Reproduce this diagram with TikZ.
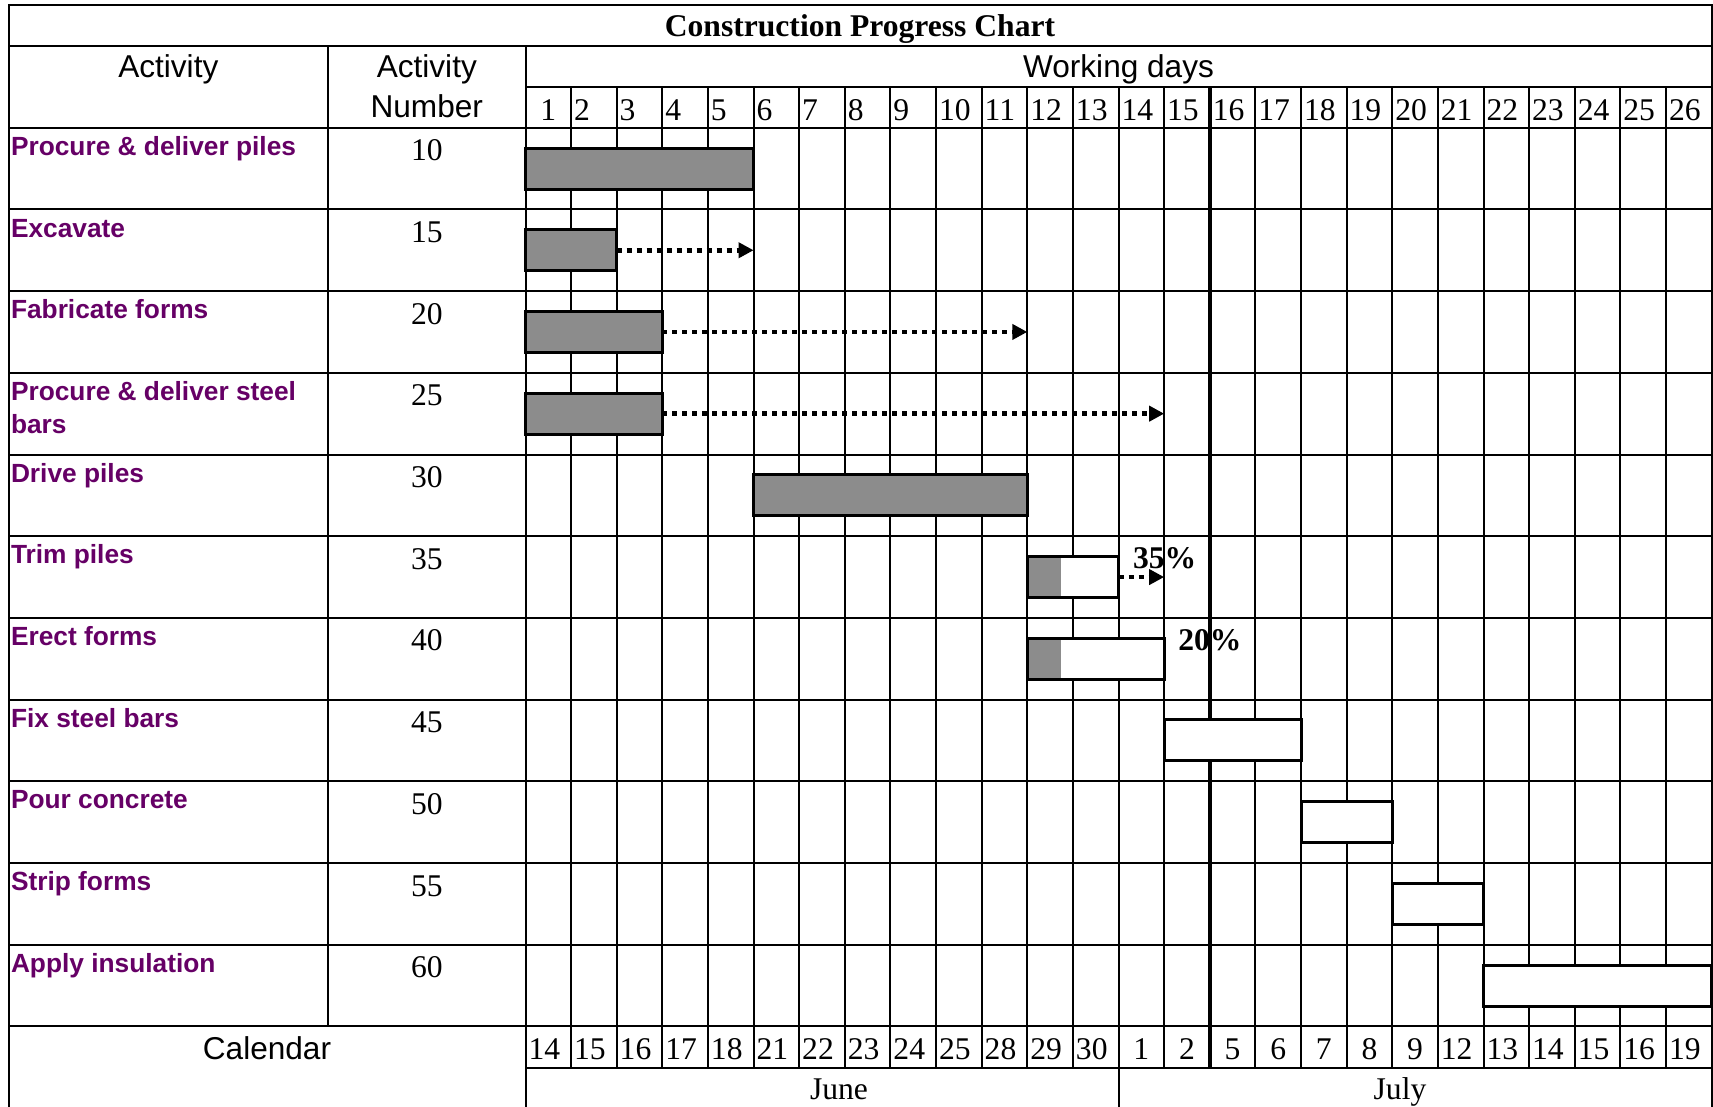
\documentclass[tikz,border=0pt]{standalone}
\usepackage{fontspec}
\setmainfont{Liberation Serif}
\setsansfont{Liberation Sans}
\usetikzlibrary{arrows.meta}
\definecolor{namepurple}{RGB}{102,0,102}
\definecolor{barfill}{RGB}{140,140,140}
\begin{document}
\begin{tikzpicture}[x=1pt,y=-1pt,
  grid/.style={line width=2pt,line cap=rect},
  thickln/.style={line width=4.5pt},
  txt/.style={inner sep=0pt,outer sep=0pt},
  serif/.style={txt,font=\fontsize{31.6}{36}\selectfont},
  serifb/.style={txt,font=\bfseries\fontsize{31.6}{36}\selectfont},
  sans/.style={txt,font=\sffamily\fontsize{31.6}{36}\selectfont},
  actname/.style={txt,anchor=base west,font=\sffamily\bfseries\fontsize{26.3}{33}\selectfont,text=namepurple},
  actnum/.style={serif,anchor=base},
  shadebar/.style={draw=black,line width=3pt,fill=barfill,inner sep=0pt,outer sep=0pt,minimum height=41pt,anchor=west},
  openbar/.style={shadebar,fill=white},
  dotarrow/.style={line width=4.5pt,dash pattern=on 5pt off 5pt,-{Triangle[length=15pt,width=15pt]}},
]
\useasboundingbox (0,0) rectangle (1713,1106);
\fill[white] (0,0) rectangle (1713,1106);

% ---------- grid ----------
\foreach \y in {5,46,127.7,209.4,291.1,372.8,454.5,536.2,617.9,699.6,781.3,863.0,944.7,1026.4}
  \draw[grid] (8.5,\y) -- (1711.6,\y);
\draw[grid] (525.5,87.3) -- (1711.6,87.3);
\draw[grid] (525.5,1067.7) -- (1711.6,1067.7);
\draw[grid] (8.5,5) -- (8.5,1106);
\draw[grid] (1711.6,5) -- (1711.6,1106);
\draw[grid] (328,46) -- (328,1026.4);
\draw[grid] (525.5,46) -- (525.5,1106);
\foreach \k in {1,...,25}
  \draw[grid] ({525.5+\k*45.62},87.3) -- ({525.5+\k*45.62},1067.7);
\draw[grid] ({525.5+13*45.62},1067.7) -- ({525.5+13*45.62},1106);
\draw[thickln] ({525.5+15*45.62},87.3) -- ({525.5+15*45.62},1067.7);

% ---------- header texts ----------
\node[serifb,anchor=base] (title) at (860,36) {Construction Progress Chart};
\node[sans,anchor=base] (hact) at (168.3,77) {Activity};
\node[sans,anchor=base] (hnum1) at (426.8,77) {Activity};
\node[sans,anchor=base] (hnum2) at (426.8,117.5) {Number};
\node[sans,anchor=base] (hwd) at (1118.5,77.5) {Working days};
\foreach \k in {1,...,26}{
  \ifnum\k=1
    \node[serif,anchor=base] (day\k) at ({525.5+(\k-0.5)*45.62},120) {\k};
  \else
    \node[serif,anchor=base west] (day\k) at ({525.5+(\k-1)*45.62+3},120) {\k};
  \fi
}

% ---------- activities ----------
\node[actname] (n10) at (11,155.3) {Procure \& deliver piles};
\node[actname] (n15) at (11,237.0) {Excavate};
\node[actname] (n20) at (11,318.7) {Fabricate forms};
\node[actname] (n25) at (11,400.4) {\vtop{\hbox{Procure \& deliver steel}\hbox{bars}}};
\node[actname] (n30) at (11,482.1) {Drive piles};
\node[actname] (n35) at (11,563.8) {Trim piles};
\node[actname] (n40) at (11,645.5) {Erect forms};
\node[actname] (n45) at (11,727.2) {Fix steel bars};
\node[actname] (n50) at (11,808.9) {Pour concrete};
\node[actname] (n55) at (11,890.6) {Strip forms};
\node[actname] (n60) at (11,972.3) {Apply insulation};

\node[actnum] (c10) at (426.8,160.7) {10};
\node[actnum] (c15) at (426.8,242.4) {15};
\node[actnum] (c20) at (426.8,324.1) {20};
\node[actnum] (c25) at (426.8,405.8) {25};
\node[actnum] (c30) at (426.8,487.5) {30};
\node[actnum] (c35) at (426.8,569.2) {35};
\node[actnum] (c40) at (426.8,650.9) {40};
\node[actnum] (c45) at (426.8,732.6) {45};
\node[actnum] (c50) at (426.8,814.3) {50};
\node[actnum] (c55) at (426.8,896.0) {55};
\node[actnum] (c60) at (426.8,977.7) {60};

% ---------- bars ----------
\node[shadebar,minimum width=228.1pt] (b10) at (525.5,168.55) {};
\node[shadebar,minimum width=91.24pt] (b15) at (525.5,250.25) {};
\node[shadebar,minimum width=136.86pt] (b20) at (525.5,331.95) {};
\node[shadebar,minimum width=136.86pt] (b25) at (525.5,413.65) {};
\node[shadebar,minimum width=273.72pt] (b30) at (753.6,495.35) {};
\node[openbar,minimum width=91.24pt] (b35) at (1027.32,577.05) {};
\node[openbar,minimum width=136.86pt] (b40) at (1027.32,658.75) {};
\node[openbar,minimum width=136.86pt] (b45) at (1164.18,740.45) {};
\node[openbar,minimum width=91.24pt] (b50) at (1301.04,822.15) {};
\node[openbar,minimum width=91.24pt] (b55) at (1392.28,903.85) {};
\node[openbar,minimum width=228.1pt] (b60) at (1483.52,985.55) {};

\fill[barfill] (b35.north west) rectangle ([xshift=34pt]b35.south west);
\draw[line width=3pt] (b35.north west) rectangle (b35.south east);
\fill[barfill] (b40.north west) rectangle ([xshift=34pt]b40.south west);
\draw[line width=3pt] (b40.north west) rectangle (b40.south east);

% ---------- dotted arrows ----------
\coordinate (a15) at (753.6,250.25);
\coordinate (a20) at (1027.32,331.95);
\coordinate (a25) at (1164.18,413.65);
\coordinate (a35) at (1164.18,577.05);
\draw[dotarrow] (b15.east) -- (a15);
\draw[dotarrow] (b20.east) -- (a20);
\draw[dotarrow] (b25.east) -- (a25);
\draw[dotarrow] (b35.east) -- (a35);

\node[serifb,anchor=base west] (p35) at (1133,568.3) {35\%};
\node[serifb,anchor=base west] (p20) at (1178.3,650) {20\%};

% ---------- calendar ----------
\node[sans,anchor=base] (cal) at (267,1059) {Calendar};
\foreach \d [count=\k] in {14,15,16,17,18,21,22,23,24,25,28,29,30,1,2,5,6,7,8,9,12,13,14,15,16,19}{
  \ifnum\d<10
    \node[serif,anchor=base] (cd\k) at ({525.5+(\k-0.5)*45.62},1059.8) {\d};
  \else
    \node[serif,anchor=base west] (cd\k) at ({525.5+(\k-1)*45.62+3},1059.8) {\d};
  \fi
}
\node[serif,anchor=base] (june) at (839,1099) {June};
\node[serif,anchor=base] (july) at (1400,1099) {July};
\end{tikzpicture}
\end{document}
